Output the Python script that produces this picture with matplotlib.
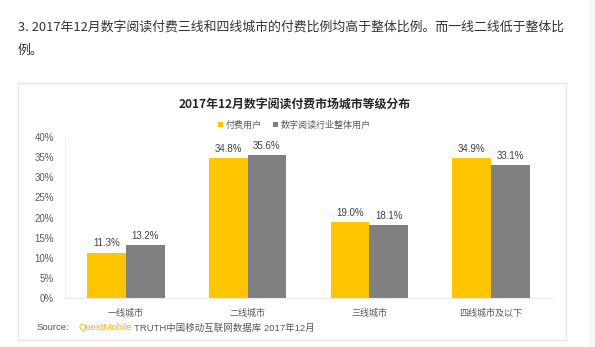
import matplotlib.pyplot as plt
from matplotlib.patches import Rectangle
import numpy as np

plt.rcParams['font.family'] = ['Noto Sans CJK SC', 'DejaVu Sans']

# data
cities = ['一线城市', '二线城市', '三线城市', '四线城市及以下']
paying_users = [11.3, 34.8, 19.0, 34.9]
all_users = [13.2, 35.6, 18.1, 33.1]
y_ticks = [0, 5, 10, 15, 20, 25, 30, 35, 40]
series_names = ['付费用户', '数字阅读行业整体用户']

yellow = '#FFC600'
gray = '#808080'
txt = '#595959'

W, H = 595, 347
fig = plt.figure(figsize=(W / 100, H / 100), dpi=100)
fig.patch.set_facecolor('white')

def fx(px):
    return px / W

def fy(py):
    return 1 - py / H

# light strip on the far right and the card around the chart
fig.patches.append(Rectangle((fx(589), 0), 1 - fx(589), 1, transform=fig.transFigure,
                             facecolor='#F7F7F7', edgecolor='none', zorder=-10))
fig.patches.append(Rectangle((fx(18), fy(340)), fx(566) - fx(18), fy(83) - fy(340),
                             transform=fig.transFigure, facecolor='white',
                             edgecolor='#E6E6E6', linewidth=1, zorder=-10))

# article text above the chart
fig.text(fx(18), fy(27), '3. 2017年12月数字阅读付费三线和四线城市的付费比例均高于整体比例。而一线二线低于整体比',
         fontsize=9.3, color='#333333', va='center', ha='left')
fig.text(fx(18), fy(50), '例。', fontsize=9.3, color='#333333', va='center', ha='left')

# title
fig.text(fx(295), fy(104), '2017年12月数字阅读付费市场城市等级分布', fontsize=8.6,
         color='#262626', va='center', ha='center', fontweight='bold')

ax = fig.add_axes([fx(65), fy(298), fx(552) - fx(65), fy(137) - fy(298)])
x = np.arange(len(cities))
bw = 0.318
b1 = ax.bar(x - bw / 2, paying_users, bw, color=yellow, label=series_names[0])
b2 = ax.bar(x + bw / 2, all_users, bw, color=gray, label=series_names[1])

for bars, vals in ((b1, paying_users), (b2, all_users)):
    for b, v in zip(bars, vals):
        ax.text(b.get_x() + b.get_width() / 2, v + 1.0, f'{v:.1f}%', ha='center', va='bottom',
                fontsize=7, color='#404040', family=['Liberation Sans', 'DejaVu Sans'])

ax.set_xlim(-0.5, len(cities) - 0.5)
ax.set_ylim(0, 40)
ax.set_yticks(y_ticks)
ax.set_yticklabels([f'{t}%' for t in y_ticks], fontsize=7, color=txt,
                   family=['Liberation Sans', 'DejaVu Sans'])
ax.set_xticks(x)
ax.set_xticklabels(cities, fontsize=6.5, color=txt)
ax.tick_params(axis='both', length=0)
ax.tick_params(axis='y', pad=8)
ax.tick_params(axis='x', pad=8)
for s in ['top', 'right']:
    ax.spines[s].set_visible(False)
ax.spines['left'].set_color('#EEEEEE')
ax.spines['bottom'].set_color('#E8E8E8')
ax.set_facecolor('none')

leg = fig.legend(handles=[b1, b2], loc='center left', bbox_to_anchor=(fx(218), fy(125)),
                 ncol=2, frameon=False, fontsize=6.5, handlelength=0.6, handleheight=0.6,
                 handletextpad=0.3, columnspacing=1.2, borderaxespad=0, borderpad=0)
for t in leg.get_texts():
    t.set_color(txt)

# source line, pieces placed one after another
fig.canvas.draw()
r = fig.canvas.get_renderer()
src_parts = [('Source:', txt, 9), ('QuestMobile', '#F0B400', 2), ('TRUTH中国移动互联网数据库 2017年12月', txt, 0)]
xpos = 37
for s, c, gap in src_parts:
    t = fig.text(fx(xpos), fy(328), s, fontsize=6.8, color=c, va='center', ha='left',
                 family=['Liberation Sans', 'Noto Sans CJK SC'])
    xpos += t.get_window_extent(r).width + gap

fig.savefig('out.png', dpi=100)
